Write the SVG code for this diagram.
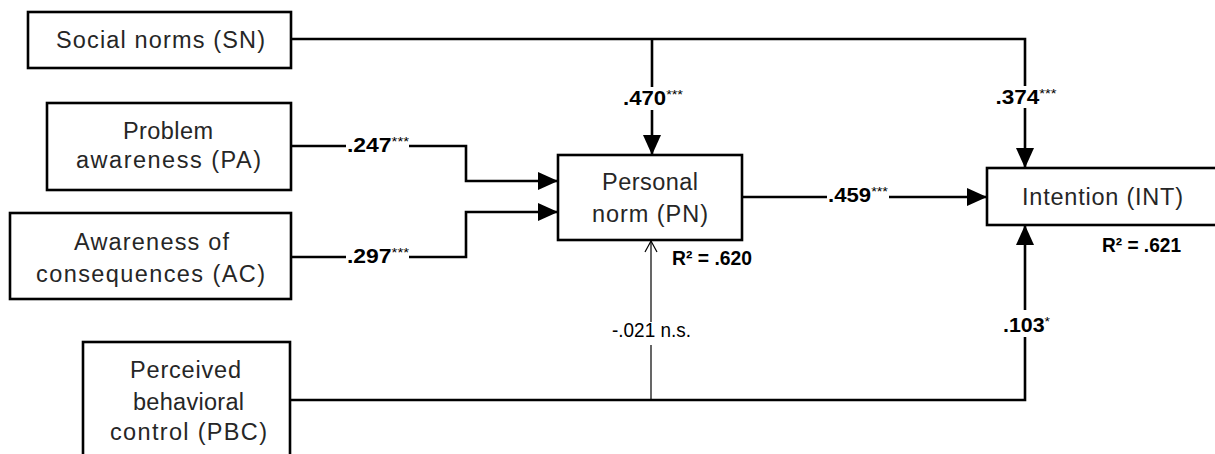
<svg xmlns="http://www.w3.org/2000/svg" width="1215" height="454" viewBox="0 0 1215 454">
<style>
.box{fill:#fff;stroke:#000;stroke-width:2.6}
.t{font-family:"Liberation Sans",Arial,sans-serif;font-size:23.5px;fill:#262626;text-anchor:middle}
.c{fill:none;stroke:#000;stroke-width:2.6}
.thin{fill:none;stroke:#000;stroke-width:1.2}
.lb{font-family:"Liberation Sans",Arial,sans-serif;font-size:20px;font-weight:bold;fill:#000;text-anchor:middle}
.ln{font-family:"Liberation Sans",Arial,sans-serif;font-size:19.5px;fill:#000;text-anchor:middle}
.sup{font-size:13px;font-weight:normal}
</style>
<defs>
<marker id="ah" markerUnits="userSpaceOnUse" markerWidth="20" markerHeight="20" viewBox="0 0 20 20" refX="20" refY="10" orient="auto">
<path d="M0,1 L20,10 L0,19 Z" fill="#000"/>
</marker>
<marker id="oh" markerUnits="userSpaceOnUse" markerWidth="14" markerHeight="14" viewBox="0 0 14 14" refX="12" refY="7" orient="auto">
<path d="M1,1 L12,7 L1,13" fill="none" stroke="#000" stroke-width="1.2"/>
</marker>
</defs>

<g id="connectors">
<path class="c" d="M291,39 H1025 V86"/>
<path class="c" d="M1025,108 V168" marker-end="url(#ah)"/>
<path class="c" d="M652,39 V87"/>
<path class="c" d="M652,110 V155" marker-end="url(#ah)"/>
<path class="c" d="M291,146 H346"/>
<path class="c" d="M409,146 H466 V181 H558" marker-end="url(#ah)"/>
<path class="c" d="M291,257 H346"/>
<path class="c" d="M409,257 H466 V212 H558" marker-end="url(#ah)"/>
<path class="c" d="M742,197 H827"/>
<path class="c" d="M889,197 H987" marker-end="url(#ah)"/>
<path class="c" d="M291,400 H1025 V337"/>
<path class="c" d="M1025,310 V225" marker-end="url(#ah)"/>
<path class="thin" d="M651,400 V345"/>
<path class="thin" d="M651,322 V241" marker-end="url(#oh)"/>

<text class="lb" x="378" y="152" textLength="62" lengthAdjust="spacingAndGlyphs">.247<tspan class="sup" dy="-6">***</tspan></text>
<text class="lb" x="378" y="263" textLength="62" lengthAdjust="spacingAndGlyphs">.297<tspan class="sup" dy="-6">***</tspan></text>
<text class="lb" x="653" y="105" textLength="60" lengthAdjust="spacingAndGlyphs">.470<tspan class="sup" dy="-6">***</tspan></text>
<text class="lb" x="1026" y="104" textLength="61" lengthAdjust="spacingAndGlyphs">.374<tspan class="sup" dy="-6">***</tspan></text>
<text class="lb" x="858" y="202" textLength="60" lengthAdjust="spacingAndGlyphs">.459<tspan class="sup" dy="-6">***</tspan></text>
<text class="ln" x="651.5" y="337" textLength="79" lengthAdjust="spacingAndGlyphs">-.021 n.s.</text>
<text class="lb" x="1026.5" y="332" textLength="47" lengthAdjust="spacingAndGlyphs">.103<tspan class="sup" dy="-6">*</tspan></text>
<text class="lb" x="712" y="265" textLength="80" lengthAdjust="spacingAndGlyphs">R² = .620</text>
<text class="lb" x="1141.5" y="252" textLength="79" lengthAdjust="spacingAndGlyphs">R² = .621</text>
</g>

<g id="SN">
<rect class="box" x="28" y="12" width="263" height="56"/>
<text class="t" x="160.5" y="48" textLength="209" lengthAdjust="spacing">Social norms  (SN)</text>
</g>
<g id="PA">
<rect class="box" x="47" y="103" width="244" height="87"/>
<text class="t" x="168" y="139" textLength="90" lengthAdjust="spacing">Problem</text>
<text class="t" x="168.5" y="168" textLength="185" lengthAdjust="spacing">awareness  (PA)</text>
</g>
<g id="AC">
<rect class="box" x="10" y="213" width="281" height="86"/>
<text class="t" x="151.5" y="250" textLength="155" lengthAdjust="spacing">Awareness of</text>
<text class="t" x="150.5" y="282" textLength="229" lengthAdjust="spacing">consequences (AC)</text>
</g>
<g id="PBC">
<rect class="box" x="83" y="342" width="207" height="130"/>
<text class="t" x="185.5" y="378" textLength="111" lengthAdjust="spacing">Perceived</text>
<text class="t" x="188.5" y="410" textLength="111" lengthAdjust="spacing">behavioral</text>
<text class="t" x="188.5" y="440" textLength="157" lengthAdjust="spacing">control (PBC)</text>
</g>
<g id="PN">
<rect class="box" x="558" y="155" width="184" height="85"/>
<text class="t" x="650" y="190" textLength="96" lengthAdjust="spacing">Personal</text>
<text class="t" x="650" y="222" textLength="116" lengthAdjust="spacing">norm (PN)</text>
</g>
<g id="INT">
<rect class="box" x="987" y="168" width="232" height="57"/>
<text class="t" x="1102.5" y="205" textLength="161" lengthAdjust="spacing">Intention  (INT)</text>
</g>
</svg>
